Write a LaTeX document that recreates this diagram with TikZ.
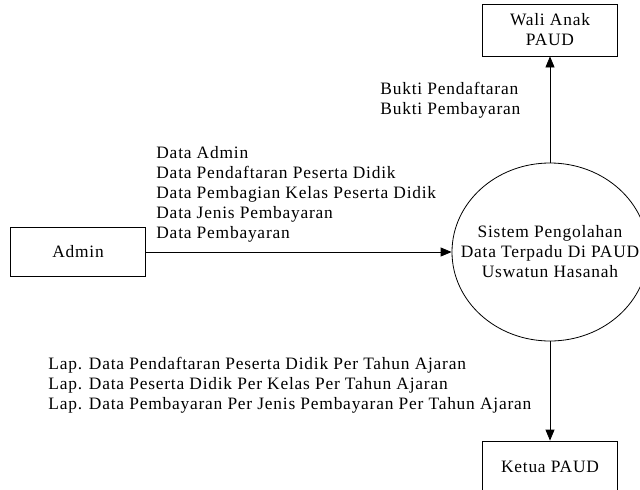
\documentclass[tikz,border=0pt]{standalone}
\usepackage{fontspec}
\setmainfont[LetterSpace=4.5]{Liberation Serif}
\usetikzlibrary{arrows.meta,shapes.geometric,positioning}
\newcommand{\dfdfont}{\fontsize{17.4}{20}\selectfont}

\begin{document}
\begin{tikzpicture}[x=1pt,y=-1pt,line width=0.8pt,>={Triangle[length=11pt,width=9pt]},
	every node/.style={font=\dfdfont},
	entity/.style={draw,minimum width=135pt,minimum height=52pt,align=center,inner sep=0pt},
	process/.style={draw,ellipse,minimum width=196pt,minimum height=178pt,inner sep=0pt},
	flow/.style={align=left,inner sep=0pt,anchor=north west}]
	\clip (0,0) rectangle (640,490);
	\node[entity] (wali) at (550,30) {Wali Anak\\PAUD};
	\node[entity,minimum height=49pt] (admin) at (78,252) {Admin};
	\node[process] (sistem) at (550,252) {};
	\node[align=center] (sistemnama) at (sistem.center) {Sistem Pengolahan\\Data Terpadu Di PAUD\\Uswatun Hasanah};
	\node[entity] (ketua) at (550,467) {Ketua PAUD};
	\path[->]
	(admin) edge (sistem)
	(sistem) edge (wali)
		edge (ketua);
	% aliran data
	\node[flow] (bukti) at (380,82) {Bukti Pendaftaran\\Bukti Pembayaran};
	\node[flow] (dataadmin) at (156,146) {Data Admin\\Data Pendaftaran Peserta Didik\\Data Pembagian Kelas Peserta Didik\\Data Jenis Pembayaran\\Data Pembayaran};
	\node[flow] (laporan) at (48,357) {Lap. Data Pendaftaran Peserta Didik Per Tahun Ajaran\\Lap. Data Peserta Didik Per Kelas Per Tahun Ajaran\\Lap. Data Pembayaran Per Jenis Pembayaran Per Tahun Ajaran};
\end{tikzpicture}
\end{document}
